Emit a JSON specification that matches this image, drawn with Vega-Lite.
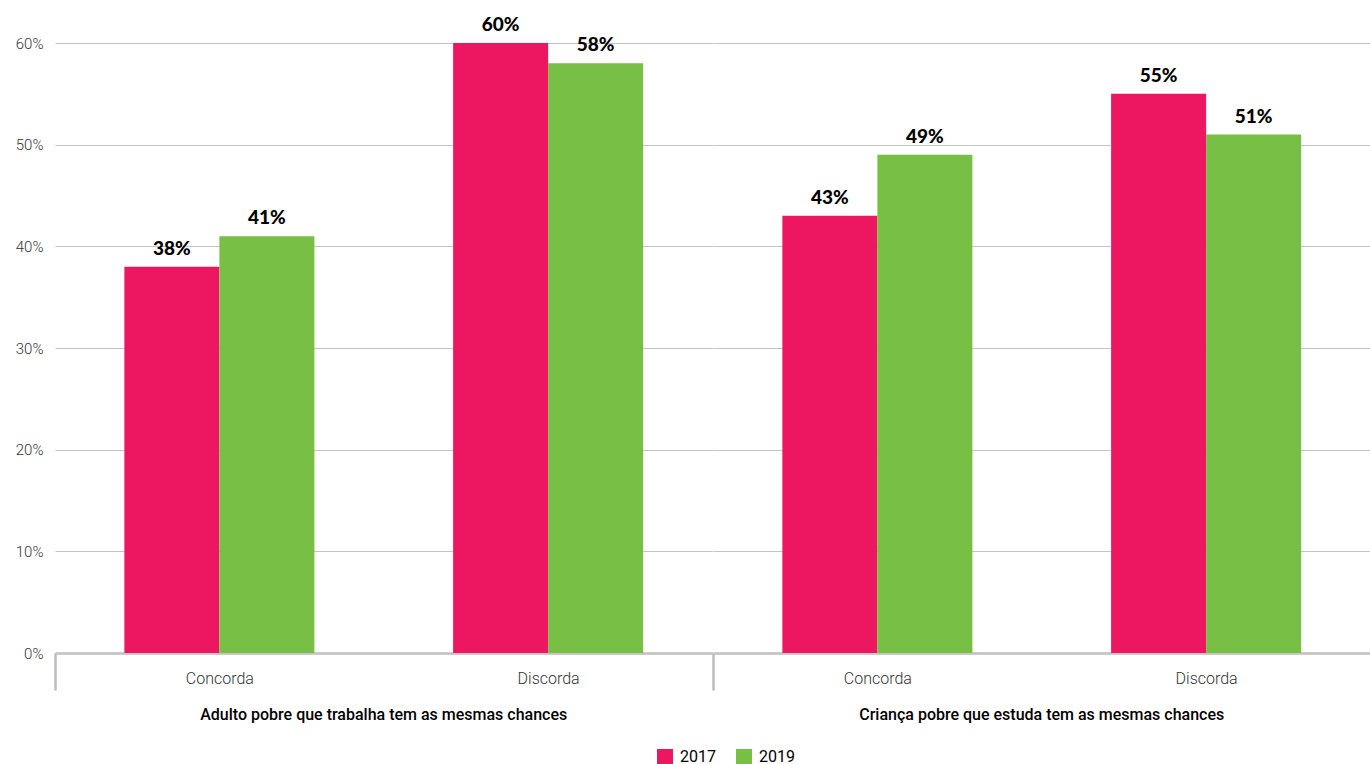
{
  "$schema": "https://vega.github.io/schema/vega-lite/v6.json",
  "padding": {"left": 15, "top": 16, "right": 0, "bottom": 0},
  "background": "white",
  "data": {"values": [
    {"grupo": "Adulto pobre que trabalha tem as mesmas chances", "resposta": "Concorda", "ano": "2017", "valor": 0.38},
    {"grupo": "Adulto pobre que trabalha tem as mesmas chances", "resposta": "Concorda", "ano": "2019", "valor": 0.41},
    {"grupo": "Adulto pobre que trabalha tem as mesmas chances", "resposta": "Discorda", "ano": "2017", "valor": 0.60},
    {"grupo": "Adulto pobre que trabalha tem as mesmas chances", "resposta": "Discorda", "ano": "2019", "valor": 0.58},
    {"grupo": "Criança pobre que estuda tem as mesmas chances", "resposta": "Concorda", "ano": "2017", "valor": 0.43},
    {"grupo": "Criança pobre que estuda tem as mesmas chances", "resposta": "Concorda", "ano": "2019", "valor": 0.49},
    {"grupo": "Criança pobre que estuda tem as mesmas chances", "resposta": "Discorda", "ano": "2017", "valor": 0.55},
    {"grupo": "Criança pobre que estuda tem as mesmas chances", "resposta": "Discorda", "ano": "2019", "valor": 0.51}
  ]},
  "facet": {
    "column": {
      "field": "grupo", "type": "nominal",
      "sort": ["Adulto pobre que trabalha tem as mesmas chances", "Criança pobre que estuda tem as mesmas chances"],
      "header": {"title": null, "labelOrient": "bottom", "labelFont": "Roboto", "labelFontSize": 16, "labelFontWeight": 500, "labelColor": "#000000", "labelPadding": 16}
    }
  },
  "spacing": 0,
  "spec": {
    "width": 657.5,
    "height": 610,
    "layer": [
      {
        "mark": {"type": "bar"},
        "encoding": {
          "x": {"field": "resposta", "type": "nominal", "sort": ["Concorda", "Discorda"], "scale": {"paddingInner": 0, "paddingOuter": 0},
                "axis": {"title": null, "tickBand": "extent", "tickExtra": true, "ticks": true, "tickSize": 37, "tickColor": "#BDBDBD", "tickWidth": 2.5,
                         "tickOpacity": {"condition": {"test": "datum.extra", "value": 1}, "value": 0}, "labelPadding": -20}},
          "xOffset": {"field": "ano", "type": "nominal", "scale": {"paddingInner": 0, "paddingOuter": 0.73}},
          "y": {"field": "valor", "type": "quantitative", "scale": {"domain": [0, 0.6], "nice": false}, "axis": {"title": null, "values": [0, 0.1, 0.2, 0.3, 0.4, 0.5, 0.6], "format": ".0%"}},
          "color": {"field": "ano", "type": "nominal", "scale": {"domain": ["2017", "2019"], "range": ["#ED1660", "#77BF45"]},
                    "legend": {"title": null, "orient": "none", "legendX": 602, "legendY": 706}}
        }
      },
      {
        "mark": {"type": "text", "baseline": "bottom", "dy": -8, "font": "Lato", "fontWeight": 900, "fontSize": 19, "color": "#000000"},
        "encoding": {
          "x": {"field": "resposta", "type": "nominal", "sort": ["Concorda", "Discorda"]},
          "xOffset": {"field": "ano", "type": "nominal"},
          "y": {"field": "valor", "type": "quantitative"},
          "text": {"field": "valor", "type": "quantitative", "format": ".0%"}
        }
      }
    ]
  },
  "config": {
    "view": {"stroke": null},
    "axisX": {"domain": true, "domainColor": "#BDBDBD", "domainWidth": 2.5, "grid": false, "labelFont": "Roboto", "labelFontWeight": 300, "labelFontSize": 16, "labelColor": "#333333", "labelAngle": 0},
    "axisY": {"domain": false, "ticks": false, "grid": true, "gridColor": "#C4C4C4", "gridWidth": 1, "labelFont": "Roboto", "labelFontWeight": 300, "labelFontSize": 15, "labelColor": "#333333", "labelPadding": 12},
    "legend": {"direction": "horizontal", "symbolType": "square", "symbolSize": 256, "symbolStrokeWidth": 0, "labelFont": "Roboto", "labelFontSize": 16, "labelColor": "#000000", "columnPadding": 20, "labelOffset": 7}
  }
}
